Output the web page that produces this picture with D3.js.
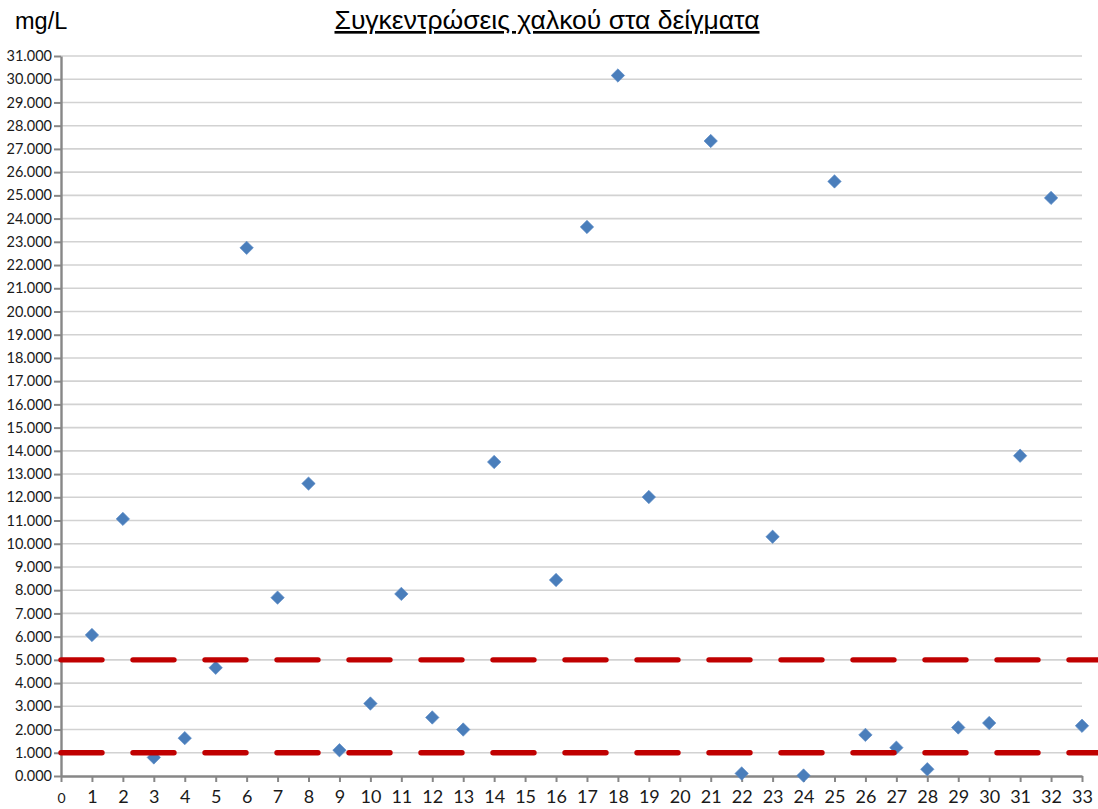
<!DOCTYPE html>
<html>
<head>
<meta charset="utf-8">
<script src="https://cdn.jsdelivr.net/npm/d3@7"></script>
<style>
  html, body { margin: 0; padding: 0; background: #ffffff; }
  svg { display: block; }
</style>
</head>
<body>
<svg id="chart" width="1098" height="809"></svg>
<script>
// Sample numbers (x) and copper concentration in mg/L (y)
const sampleIds = [1, 2, 3, 4, 5, 6, 7, 8, 9, 10, 11, 12, 13, 14, 16, 17, 18, 19,
                   21, 22, 23, 24, 25, 26, 27, 28, 29, 30, 31, 32, 33];
const copperValues = [6.07, 11.07, 0.80, 1.63, 4.66, 22.74, 7.68, 12.59, 1.11, 3.12,
                      7.84, 2.52, 2.00, 13.52, 8.44, 23.64, 30.16, 12.01,
                      27.34, 0.11, 10.30, 0.02, 25.60, 1.77, 1.22, 0.29, 2.09, 2.28,
                      13.79, 24.89, 2.16];

// Reference limits drawn as dashed lines across the chart
const limitValues = [5, 1];
const limitSpan = [0, 33.5];

// Axis ticks
const xTicks = d3.range(0, 34);
const yTicks = d3.range(0, 32);

const titleText = "Συγκεντρώσεις χαλκού στα δείγματα";
const unitText = "mg/L";

const svg = d3.select("#chart");
const margin = { left: 61, right: 16, top: 56, bottom: 33 };
const W = 1098, H = 809;

const x = d3.scaleLinear().domain([0, 33]).range([margin.left, W - margin.right]);
const y = d3.scaleLinear().domain([0, 31]).range([H - margin.bottom, margin.top]);

const numFont = "Lato, 'Open Sans', sans-serif";

// Horizontal gridlines
svg.append("g")
  .selectAll("line")
  .data(yTicks.filter(d => d > 0))
  .join("line")
  .attr("x1", x(0)).attr("x2", x(33))
  .attr("y1", d => y(d)).attr("y2", d => y(d))
  .attr("stroke", "#d2d2d2")
  .attr("stroke-width", 1.6);

// Y axis
const yAxis = svg.append("g")
  .attr("transform", `translate(${x(0)},0)`)
  .call(d3.axisLeft(y).tickValues(yTicks).tickFormat(d3.format(".3f")).tickSizeInner(7).tickSizeOuter(0).tickPadding(2));
yAxis.select(".domain").attr("stroke", "#878787").attr("stroke-width", 2.4);
yAxis.selectAll(".tick line").attr("stroke", "#878787").attr("stroke-width", 2);
yAxis.selectAll(".tick text")
  .attr("fill", "#1a1a1a")
  .style("font-family", numFont)
  .style("font-size", "14.5px");

// X axis
const xAxis = svg.append("g")
  .attr("transform", `translate(0,${y(0)})`)
  .call(d3.axisBottom(x).tickValues(xTicks).tickFormat(d3.format("d")).tickSizeInner(6).tickSizeOuter(0).tickPadding(8));
xAxis.select(".domain").attr("stroke", "#878787").attr("stroke-width", 2.4);
xAxis.selectAll(".tick line").attr("stroke", "#878787").attr("stroke-width", 2);
xAxis.selectAll(".tick text")
  .attr("fill", "#1a1a1a")
  .style("font-family", numFont)
  .style("font-size", d => d === 0 ? "14px" : "18px")
  .attr("dy", d => d === 0 ? "0.9em" : "0.71em");

// Data points as diamonds
const diamond = d3.symbol().type(d3.symbolSquare).size(90);
svg.append("g")
  .selectAll("path")
  .data(sampleIds.map((id, i) => ({ id, v: copperValues[i] })))
  .join("path")
  .attr("d", diamond)
  .attr("transform", d => `translate(${x(d.id)},${y(d.v)}) rotate(45)`)
  .attr("fill", "#4a7ebb")
  .attr("stroke", "#5a8ac6")
  .attr("stroke-width", 0.6);

// Dashed limit lines
svg.append("g")
  .selectAll("line")
  .data(limitValues)
  .join("line")
  .attr("x1", x(limitSpan[0])).attr("x2", x(limitSpan[1]))
  .attr("y1", d => y(d)).attr("y2", d => y(d))
  .attr("stroke", "#c00000")
  .attr("stroke-width", 5.4)
  .attr("stroke-linecap", "round")
  .attr("stroke-dasharray", "41 31");

// Unit label
svg.append("text")
  .attr("x", 15).attr("y", 29)
  .attr("fill", "#000")
  .style("font-family", "'Liberation Sans', Arial, sans-serif")
  .style("font-size", "23.5px")
  .text(unitText);

// Title
svg.append("text")
  .attr("x", 547).attr("y", 29)
  .attr("text-anchor", "middle")
  .attr("fill", "#000")
  .style("font-family", "'Liberation Sans', Arial, sans-serif")
  .style("font-size", "26.5px")
  .style("text-decoration", "underline")
  .text(titleText);
</script>
</body>
</html>
